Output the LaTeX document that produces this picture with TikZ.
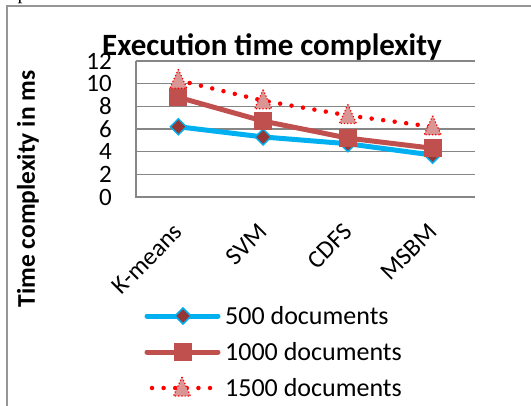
\documentclass[tikz,border=0pt]{standalone}
\usepackage{fontspec}
\setmainfont{Carlito}
\newfontfamily\pageserif{Liberation Serif}
\usetikzlibrary{positioning, calc}

\definecolor{seriesblue}{RGB}{0,176,240}
\definecolor{diamondred}{RGB}{149,55,53}
\definecolor{squarered}{RGB}{192,80,77}
\definecolor{tripink}{RGB}{217,150,148}
\definecolor{gridgray}{RGB}{134,134,134}
\definecolor{framegray}{RGB}{150,150,150}

\begin{document}
\begin{tikzpicture}[
    x=1pt, y=-1pt,
    every node/.style={inner sep=0pt, text=black},
    gridline/.style={draw=gridgray, line width=1.2pt},
    ticklabel/.style={anchor=east, font=\fontsize{25}{25}\selectfont},
    catlabel/.style={anchor=east, rotate=45, font=\fontsize{25}{25}\selectfont},
    legendtext/.style={anchor=base west, font=\fontsize{26}{26}\selectfont},
    line500/.style={draw=seriesblue, line width=5pt, line cap=round, line join=round},
    line1000/.style={draw=squarered, line width=5pt, line cap=round, line join=round},
    line1500/.style={draw=red, line width=4.5pt, line cap=round, dash pattern=on 0pt off 11.6pt},
    diamondmark/.pic={
        \draw[fill=diamondred, draw=seriesblue, line width=1.5pt]
            (0pt,8pt) -- (8pt,0pt) -- (0pt,-8pt) -- (-8pt,0pt) -- cycle;
    },
    squaremark/.pic={
        \fill[squarered] (-9pt,-9pt) rectangle (9pt,9pt);
    },
    trimark/.pic={
        \draw[fill=tripink, draw=red, line width=1.2pt, dotted]
            (0pt,11pt) -- (8.5pt,-8pt) -- (-8.5pt,-8pt) -- cycle;
    }
]
\useasboundingbox (0,0) rectangle (531,405);

% Frame of the chart
\coordinate (frameNW) at (7,6);
\draw[draw=framegray, line width=1.5pt] (7,420) -- (frameNW) -- (545,6);
\node[anchor=base west, font=\pageserif\fontsize{20}{20}\selectfont] (pageletter) at (17.5,-1) {p};

% Title and axis title
\node[anchor=base, font=\bfseries\fontsize{31}{31}\selectfont] (title) at (272,55) {Execution time complexity};
\node[rotate=90, font=\bfseries\fontsize{25.5}{25.5}\selectfont] (ylabel) at (28,189) {Time complexity in ms};

\begin{scope}[shift={(136,197)}, x=84.75pt, y=11.33pt]

% Grid and axes
\draw[gridline] (0,2) -- (4,2);
\draw[gridline] (0,4) -- (4,4);
\draw[gridline] (0,6) -- (4,6);
\draw[gridline] (0,8) -- (4,8);
\draw[gridline] (0,10) -- (4,10);
\draw[gridline] (0,12) -- (4,12);
\draw[gridline] (0,12) -- (0,0) -- (4,0);

% Tick labels
\node[ticklabel] (tick0) at ($(0,0)+(-24pt,0pt)$) {0};
\node[ticklabel] (tick2) at ($(0,2)+(-24pt,0pt)$) {2};
\node[ticklabel] (tick4) at ($(0,4)+(-24pt,0pt)$) {4};
\node[ticklabel] (tick6) at ($(0,6)+(-24pt,0pt)$) {6};
\node[ticklabel] (tick8) at ($(0,8)+(-24pt,0pt)$) {8};
\node[ticklabel] (tick10) at ($(0,10)+(-24pt,0pt)$) {10};
\node[ticklabel] (tick12) at ($(0,12)+(-24pt,0pt)$) {12};

% Category labels
\node[catlabel] (kmeans) at ($(0.5,0)+(0pt,-31pt)$) {K-means};
\node[catlabel] (svm) at ($(1.5,0)+(0pt,-31pt)$) {SVM};
\node[catlabel] (cdfs) at ($(2.5,0)+(0pt,-31pt)$) {CDFS};
\node[catlabel] (msbm) at ($(3.5,0)+(0pt,-31pt)$) {MSBM};

% Data points
\coordinate (k500) at (0.5,6.2);
\coordinate (svm500) at (1.5,5.3);
\coordinate (cdfs500) at (2.5,4.7);
\coordinate (msbm500) at (3.5,3.7);

\coordinate (k1000) at (0.5,8.8);
\coordinate (svm1000) at (1.5,6.7);
\coordinate (cdfs1000) at (2.5,5.2);
\coordinate (msbm1000) at (3.5,4.3);

\coordinate (k1500) at (0.5,10.3);
\coordinate (svm1500) at (1.5,8.5);
\coordinate (cdfs1500) at (2.5,7.2);
\coordinate (msbm1500) at (3.5,6.2);

% 500 documents
\draw[line500] (k500) -- (svm500) -- (cdfs500) -- (msbm500);
\pic at (k500) {diamondmark};
\pic at (svm500) {diamondmark};
\pic at (cdfs500) {diamondmark};
\pic at (msbm500) {diamondmark};

% 1000 documents
\draw[line1000] (k1000) -- (svm1000) -- (cdfs1000) -- (msbm1000);
\pic at (k1000) {squaremark};
\pic at (svm1000) {squaremark};
\pic at (cdfs1000) {squaremark};
\pic at (msbm1000) {squaremark};

% 1500 documents
\draw[line1500] (k1500) -- (svm1500) -- (cdfs1500) -- (msbm1500);
\pic at (k1500) {trimark};
\pic at (svm1500) {trimark};
\pic at (cdfs1500) {trimark};
\pic at (msbm1500) {trimark};

\end{scope}

% Legend
\coordinate (leg500w) at (147,316);
\coordinate (leg500e) at (218,316);
\draw[line500] (leg500w) -- (leg500e);
\pic at (183,316) {diamondmark};
\node[legendtext] (leg500) at (225,324.5) {500 documents};

\coordinate (leg1000w) at (147,352);
\coordinate (leg1000e) at (218,352);
\draw[line1000] (leg1000w) -- (leg1000e);
\pic at (183,352) {squaremark};
\node[legendtext] (leg1000) at (225,360.5) {1000 documents};

\coordinate (leg1500w) at (152,388);
\coordinate (leg1500e) at (212,388);
\draw[line1500] (leg1500w) -- (leg1500e);
\pic at (182,388) {trimark};
\node[legendtext] (leg1500) at (225,396.5) {1500 documents};

\end{tikzpicture}
\end{document}
